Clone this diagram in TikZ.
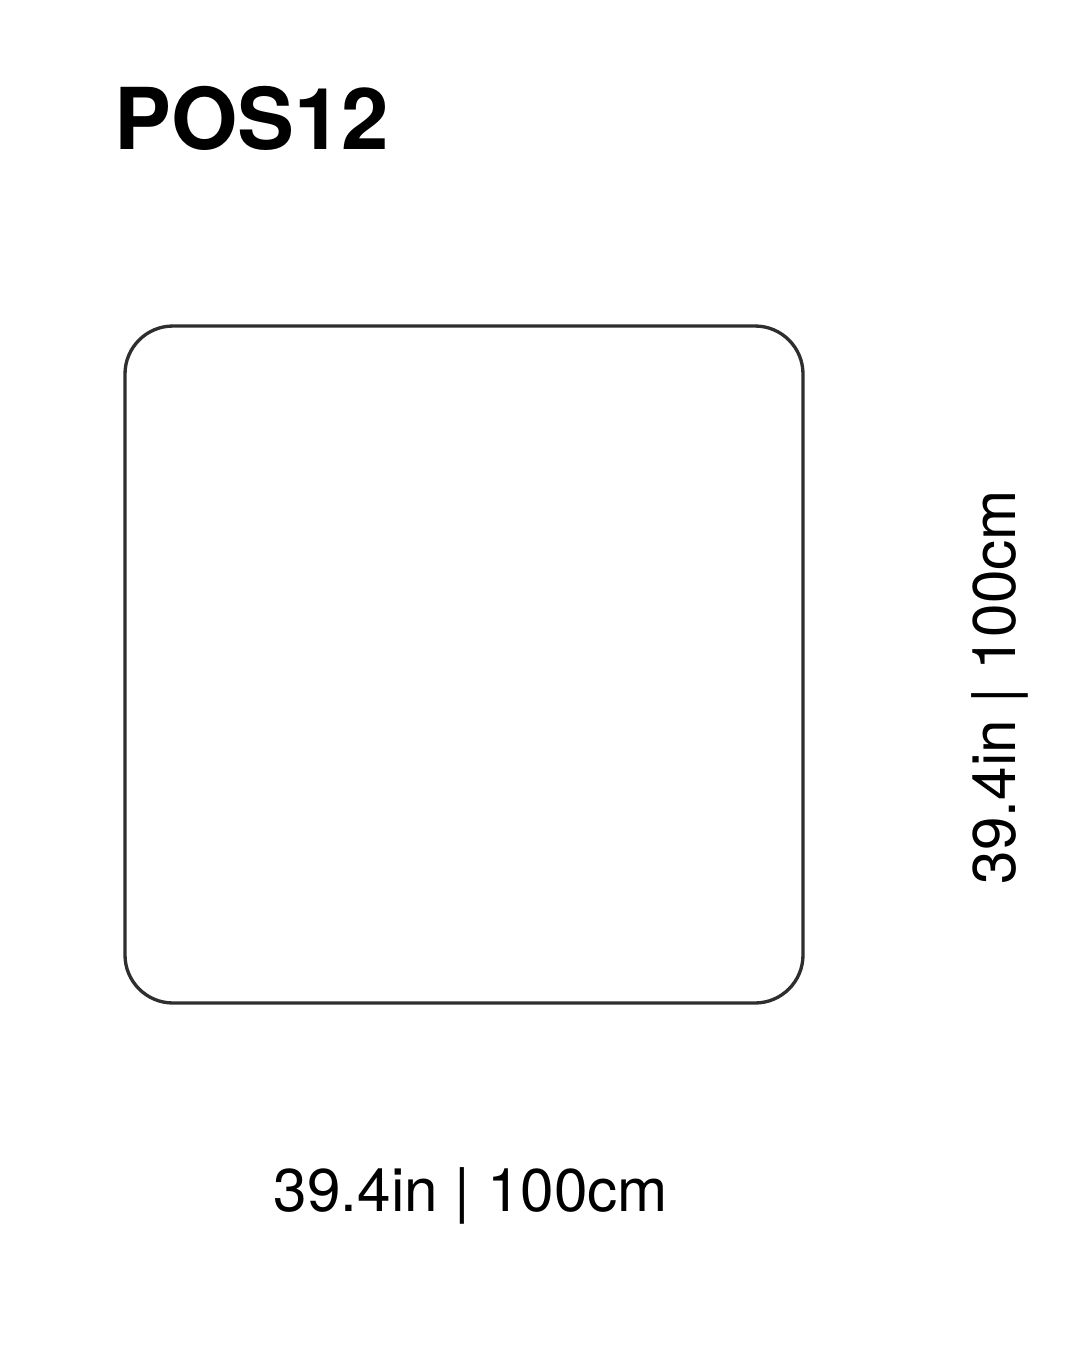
\documentclass[tikz,border=0pt]{standalone}
\usepackage{fontspec}
\setmainfont{TeX Gyre Heros}
\begin{document}
\begin{tikzpicture}[x=0.75pt,y=-0.75pt,
  outline/.style={draw=black!82,line width=2.5pt,rounded corners=36pt},
  title/.style={inner sep=0pt,anchor=base west,font=\fontsize{64}{70}\selectfont\bfseries},
  dim/.style={inner sep=0pt,anchor=base,font=\fontsize{45.2}{50}\selectfont}]
\useasboundingbox[fill=white] (0,0) rectangle (1080,1350);
\node[title] (t) at (114,149) {POS12};
\draw[outline] (125,326) rectangle (803,1003);
\coordinate (sq) at (464,664.5);
\node[dim] (w) at (471,1211) {39.4in | 100cm};
\node[dim,rotate=90] (h) at (1015,687) {39.4in | 100cm};
\end{tikzpicture}
\end{document}
